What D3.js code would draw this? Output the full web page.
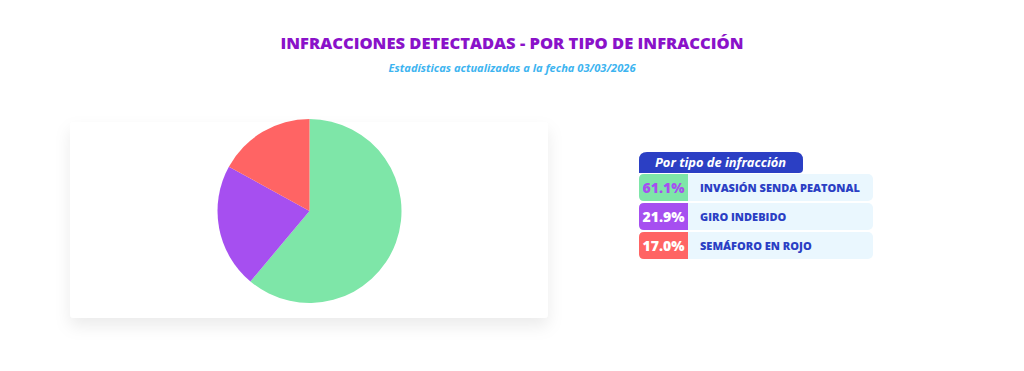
<!DOCTYPE html>
<html>
<head>
<meta charset="utf-8">
<script src="https://cdn.jsdelivr.net/npm/d3@7/dist/d3.min.js"></script>
<style>
  html, body { margin: 0; padding: 0; background: #ffffff; }
  svg { display: block; font-family: "Open Sans", "Noto Sans", sans-serif; }
</style>
</head>
<body>
<div id="chart"></div>
<script>
var width = 1024,
    height = 371;

// data
var categories = ["INVASIÓN SENDA PEATONAL", "GIRO INDEBIDO", "SEMÁFORO EN ROJO"];
var percentages = [61.1, 21.9, 17.0];
var sliceColors = ["#7ee6a8", "#a64ff0", "#ff6464"];
var percentColors = ["#a64ff0", "#ffffff", "#ffffff"];

var titleText = "INFRACCIONES DETECTADAS - POR TIPO DE INFRACCIÓN";
var subtitleText = "Estadísticas actualizadas a la fecha 03/03/2026";
var legendTitle = "Por tipo de infracción";

// the original font is a wider geometric face, stretch ours a bit
function widen(selection, factor) {
    selection.each(function() {
        var len = this.getComputedTextLength();
        d3.select(this)
            .attr("textLength", len * factor)
            .attr("lengthAdjust", "spacingAndGlyphs");
    });
}

var svg = d3.select("#chart")
    .append("svg")
    .attr("width", width)
    .attr("height", height);

var defs = svg.append("defs");
var shadow = defs.append("filter")
    .attr("id", "cardShadow")
    .attr("x", "-10%").attr("y", "-10%")
    .attr("width", "120%").attr("height", "140%");
shadow.append("feDropShadow")
    .attr("dx", 0).attr("dy", 8)
    .attr("stdDeviation", 8)
    .attr("flood-color", "#000000")
    .attr("flood-opacity", 0.08);

/* Titles */
svg.append("text")
    .attr("x", width / 2)
    .attr("y", 49)
    .attr("text-anchor", "middle")
    .attr("textLength", 463)
    .attr("lengthAdjust", "spacingAndGlyphs")
    .style("font-size", "16px")
    .style("font-weight", 800)
    .style("fill", "#8a12c9")
    .text(titleText);

svg.append("text")
    .attr("x", width / 2)
    .attr("y", 72)
    .attr("text-anchor", "middle")
    .attr("textLength", 247)
    .attr("lengthAdjust", "spacingAndGlyphs")
    .style("font-size", "10px")
    .style("font-weight", 700)
    .style("font-style", "italic")
    .style("fill", "#3db4f0")
    .text(subtitleText);

/* Card with the pie */
var card = { x: 70, y: 122, w: 478, h: 196 };

svg.append("rect")
    .attr("x", card.x)
    .attr("y", card.y)
    .attr("width", card.w)
    .attr("height", card.h)
    .attr("rx", 4)
    .style("fill", "#ffffff")
    .attr("filter", "url(#cardShadow)");

var radius = 92;
var pie = d3.pie().sort(null).value(function(d) { return d; });
var arc = d3.arc().innerRadius(0).outerRadius(radius);

var pieGroup = svg.append("g")
    .attr("transform", "translate(" + 309.5 + "," + 211 + ")");

pieGroup.selectAll("path")
    .data(pie(percentages))
    .enter()
    .append("path")
    .attr("d", arc)
    .style("fill", function(d, i) { return sliceColors[i]; });

/* Legend table */
var legendX = 639,
    headerY = 152,
    rowY = 174,
    rowH = 27,
    rowStep = 29,
    cellW = 49,
    rowW = 234;

svg.append("path")
    .attr("d", "M" + legendX + "," + (headerY + 21) +
               " V" + (headerY + 8) +
               " Q" + legendX + "," + headerY + " " + (legendX + 8) + "," + headerY +
               " H" + (legendX + 156) +
               " Q" + (legendX + 164) + "," + headerY + " " + (legendX + 164) + "," + (headerY + 8) +
               " V" + (headerY + 17) +
               " Q" + (legendX + 164) + "," + (headerY + 21) + " " + (legendX + 160) + "," + (headerY + 21) + " Z")
    .style("fill", "#2b3fc4");

svg.append("text")
    .attr("x", legendX + 16)
    .attr("y", headerY + 15)
    .style("font-size", "11.5px")
    .style("font-weight", 700)
    .style("font-style", "italic")
    .style("fill", "#ffffff")
    .text(legendTitle)
    .call(widen, 1.12);

var rows = svg.selectAll(".legend-row")
    .data(categories)
    .enter()
    .append("g")
    .attr("class", "legend-row")
    .attr("transform", function(d, i) { return "translate(" + legendX + "," + (rowY + i * rowStep) + ")"; });

rows.append("rect")
    .attr("width", rowW)
    .attr("height", rowH)
    .attr("rx", 5)
    .style("fill", "#eaf7fe");

rows.append("path")
    .attr("d", "M" + cellW + ",0 H5 Q0,0 0,5 V" + (rowH - 5) + " Q0," + rowH + " 5," + rowH + " H" + cellW + " Z")
    .style("fill", function(d, i) { return sliceColors[i]; });

rows.append("text")
    .attr("x", cellW / 2)
    .attr("y", 19)
    .attr("text-anchor", "middle")
    .style("font-size", "14px")
    .style("font-weight", 800)
    .style("fill", function(d, i) { return percentColors[i]; })
    .text(function(d, i) { return percentages[i].toFixed(1) + "%"; });

rows.append("text")
    .attr("x", 61)
    .attr("y", 18)
    .style("font-size", "10px")
    .style("font-weight", 800)
    .style("fill", "#2b3fc4")
    .text(function(d) { return d; })
    .call(widen, 1.1);
</script>
</body>
</html>
